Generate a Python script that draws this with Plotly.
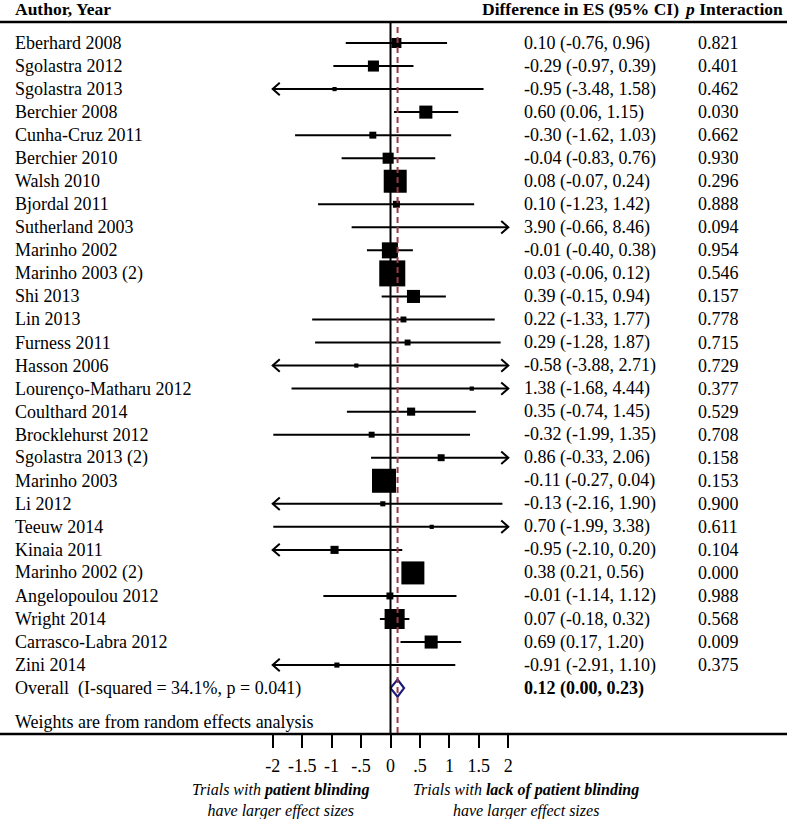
import plotly.graph_objects as go

# ---------------- data ----------------
studies = ["Eberhard 2008", "Sgolastra 2012", "Sgolastra 2013", "Berchier 2008",
           "Cunha-Cruz 2011", "Berchier 2010", "Walsh 2010", "Bjordal 2011",
           "Sutherland 2003", "Marinho 2002", "Marinho 2003 (2)", "Shi 2013",
           "Lin 2013", "Furness 2011", "Hasson 2006", "Lourenço-Matharu 2012",
           "Coulthard 2014", "Brocklehurst 2012", "Sgolastra 2013 (2)", "Marinho 2003",
           "Li 2012", "Teeuw 2014", "Kinaia 2011", "Marinho 2002 (2)",
           "Angelopoulou 2012", "Wright 2014", "Carrasco-Labra 2012", "Zini 2014"]
es = [0.10, -0.29, -0.95, 0.60, -0.30, -0.04, 0.08, 0.10, 3.90, -0.01, 0.03, 0.39,
      0.22, 0.29, -0.58, 1.38, 0.35, -0.32, 0.86, -0.11, -0.13, 0.70, -0.95, 0.38,
      -0.01, 0.07, 0.69, -0.91]
lo = [-0.76, -0.97, -3.48, 0.06, -1.62, -0.83, -0.07, -1.23, -0.66, -0.40, -0.06, -0.15,
      -1.33, -1.28, -3.88, -1.68, -0.74, -1.99, -0.33, -0.27, -2.16, -1.99, -2.10, 0.21,
      -1.14, -0.18, 0.17, -2.91]
hi = [0.96, 0.39, 1.58, 1.15, 1.03, 0.76, 0.24, 1.42, 8.46, 0.38, 0.12, 0.94,
      1.77, 1.87, 2.71, 4.44, 1.45, 1.35, 2.06, 0.04, 1.90, 3.38, 0.20, 0.56,
      1.12, 0.32, 1.20, 1.10]
p_interaction = ["0.821", "0.401", "0.462", "0.030", "0.662", "0.930", "0.296", "0.888",
                 "0.094", "0.954", "0.546", "0.157", "0.778", "0.715", "0.729", "0.377",
                 "0.529", "0.708", "0.158", "0.153", "0.900", "0.611", "0.104", "0.000",
                 "0.988", "0.568", "0.009", "0.375"]
weights = [2.3, 2.8, 0.4, 3.9, 1.1, 2.8, 12.1, 1.1, 0.2, 5.9, 15.5, 3.9,
           0.8, 0.8, 0.4, 0.4, 1.5, 0.8, 1.1, 13.2, 0.6, 0.4, 1.5, 12.1,
           1.1, 9.2, 3.9, 0.6]
overall = {"es": 0.12, "lo": 0.00, "hi": 0.23,
           "label": "Overall  (I-squared = 34.1%, p = 0.041)"}
tick_vals = [-2, -1.5, -1, -0.5, 0, 0.5, 1, 1.5, 2]
tick_text = ["-2", "-1.5", "-1", "-.5", "0", ".5", "1", "1.5", "2"]

# ---------------- layout geometry ----------------
W, H = 787, 819
x0_px, px_per_unit = 390.5, 58.9
row0_px, row_px = 43.0, 23.04
axis_px = 734
XMIN, XMAX = -2, 2
FONT = "Liberation Serif"

def ypx_to_row(p):
    return (p - row0_px) / row_px

def ypx_to_paper(p):
    return 1 - p / H

n = len(studies)
rows = list(range(n))
overall_row = n

fig = go.Figure()

# CI lines (clipped to axis window)
lx, ly = [], []
for r, a, b in zip(rows, lo, hi):
    lx += [max(a, XMIN), min(b, XMAX), None]
    ly += [r, r, None]
fig.add_trace(go.Scatter(x=lx, y=ly, mode="lines", line=dict(color="black", width=2),
                         hoverinfo="skip", showlegend=False))

# arrow heads for truncated CIs
ax_, ay_ = [], []
dx, dy = 0.12, 0.27
for r, a, b in zip(rows, lo, hi):
    if a < XMIN:
        ax_ += [XMIN + dx, XMIN, XMIN + dx, None]
        ay_ += [r - dy, r, r + dy, None]
    if b > XMAX:
        ax_ += [XMAX - dx, XMAX, XMAX - dx, None]
        ay_ += [r - dy, r, r + dy, None]
fig.add_trace(go.Scatter(x=ax_, y=ay_, mode="lines", line=dict(color="black", width=2),
                         hoverinfo="skip", showlegend=False))

# weighted boxes
bx = [e for e in es if XMIN <= e <= XMAX]
by = [r for r, e in zip(rows, es) if XMIN <= e <= XMAX]
bs = [(w * 43.7) ** 0.5 for w, e in zip(weights, es) if XMIN <= e <= XMAX]
fig.add_trace(go.Scatter(x=bx, y=by, mode="markers",
                         marker=dict(symbol="square", size=bs, color="black", opacity=1,
                                     line=dict(width=0)),
                         hoverinfo="skip", showlegend=False))

# overall diamond
hh = 0.37
fig.add_trace(go.Scatter(x=[overall["lo"], overall["es"], overall["hi"], overall["es"], overall["lo"]],
                         y=[overall_row, overall_row - hh, overall_row, overall_row + hh, overall_row],
                         mode="lines", line=dict(color="#1c1c78", width=2.2),
                         hoverinfo="skip", showlegend=False))

top_row = ypx_to_row(22)
bot_row = ypx_to_row(axis_px)

shapes = [
    dict(type="line", xref="paper", yref="paper", x0=0, x1=1,
         y0=ypx_to_paper(22), y1=ypx_to_paper(22), line=dict(color="black", width=2.5)),
    dict(type="line", xref="paper", yref="paper", x0=0, x1=1,
         y0=ypx_to_paper(axis_px), y1=ypx_to_paper(axis_px), line=dict(color="black", width=2.5)),
    dict(type="line", xref="x", yref="y", x0=0, x1=0, y0=top_row, y1=bot_row,
         line=dict(color="black", width=2)),
    dict(type="line", xref="x", yref="y", x0=overall["es"], x1=overall["es"],
         y0=ypx_to_row(27), y1=bot_row,
         line=dict(color="#9a3b4b", width=2, dash="6px,4px")),
]

ann = []
def txt(x_px, y_row, s, size=18, anchor="left"):
    ann.append(dict(xref="paper", yref="y", x=x_px / W, y=y_row, text=s, showarrow=False,
                    xanchor=anchor, yanchor="middle", font=dict(family=FONT, size=size, color="black")))

head_row = ypx_to_row(9)
txt(13, head_row, "<b>Author, Year</b>", 17.5)
txt(480, head_row, "<b>Difference in ES (95% CI)</b>", 17.5)
txt(682, head_row, "<b><i>p</i> Interaction</b>", 17.5)

for r, s, e, a, b, p in zip(rows, studies, es, lo, hi, p_interaction):
    txt(13, r, s)
    txt(522, r, f"{e:.2f} ({a:.2f}, {b:.2f})")
    txt(696, r, p)

txt(13, overall_row, overall["label"])
txt(522, overall_row, f"<b>{overall['es']:.2f} ({overall['lo']:.2f}, {overall['hi']:.2f})</b>")
txt(13, ypx_to_row(722), "Weights are from random effects analysis")

for cx, s in [(280, "<i>Trials with <b>patient blinding</b></i><br><i>have larger effect sizes</i>"),
              (526, "<i>Trials with <b>lack of patient blinding</b></i><br><i>have larger effect sizes</i>")]:
    ann.append(dict(xref="paper", yref="paper", x=cx / W, y=ypx_to_paper(800), text=s,
                    showarrow=False, xanchor="center", yanchor="middle", align="center",
                    font=dict(family=FONT, size=16, color="black")))

fig.update_layout(
    width=W, height=H, margin=dict(l=0, r=0, t=0, b=0, autoexpand=False),
    paper_bgcolor="white", plot_bgcolor="white",
    xaxis=dict(range=[-x0_px / px_per_unit, (W - x0_px) / px_per_unit],
               anchor="y", side="bottom", automargin=False,
               tickmode="array", tickvals=tick_vals, ticktext=tick_text,
               ticks="outside", ticklen=13, tickwidth=2, tickcolor="black",
               ticklabelstandoff=2,
               tickfont=dict(family=FONT, size=18, color="black"),
               showgrid=False, zeroline=False, showline=False, fixedrange=True),
    yaxis=dict(domain=[ypx_to_paper(axis_px), 1],
               range=[ypx_to_row(axis_px), ypx_to_row(0)], visible=False, automargin=False,
               showgrid=False, zeroline=False, fixedrange=True),
    shapes=shapes, annotations=ann, showlegend=False,
)

fig.write_html("out.html", config={"displayModeBar": False},
               post_script="document.body.style.margin='0';document.body.style.overflow='hidden';")
